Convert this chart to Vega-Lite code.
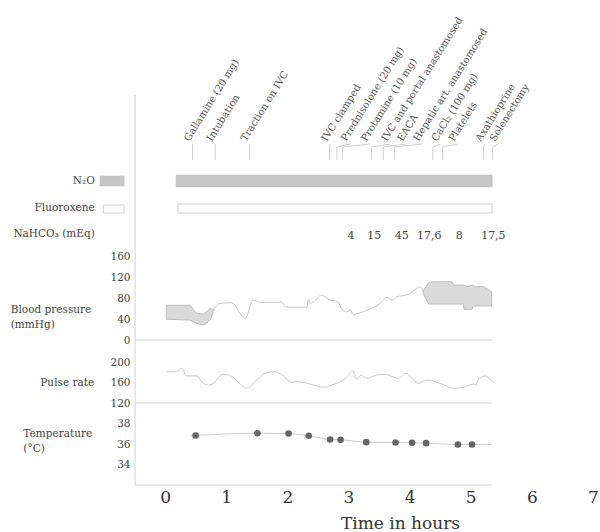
{
  "$schema": "https://vega.github.io/schema/vega-lite/v6.json",
  "padding": 0,
  "background": "white",
  "spacing": 0,
  "bounds": "flush",
  "config": {
    "view": {"stroke": null},
    "font": "DejaVu Serif",
    "axisY": {"domain": false, "ticks": false, "grid": false, "offset": -135, "labelPadding": 5, "labelFont": "DejaVu Serif", "labelFontSize": 10.5, "labelColor": "#444", "labelOverlap": false, "labelBound": false, "labelFlush": false},
    "axisX": {"domain": false, "ticks": false, "grid": false, "labelFont": "DejaVu Serif", "labelFontSize": 17, "labelColor": "#333", "labelPadding": 4, "labelFlush": false, "labelOverlap": false, "titleFont": "DejaVu Serif", "titleFontSize": 17, "titleFontWeight": "normal", "titleColor": "#333", "titlePadding": 10}
  },
  "resolve": {"scale": {"x": "independent", "y": "independent"}, "axis": {"x": "independent", "y": "independent"}},
  "datasets": {
    "events": [
      {"event": "Gallamine (20 mg)", "t": 0.45, "label_t": 0.45},
      {"event": "Intubation", "t": 0.82, "label_t": 0.82},
      {"event": "Traction on IVC", "t": 1.38, "label_t": 1.38},
      {"event": "IVC clamped", "t": 2.69, "label_t": 2.70},
      {"event": "Prednisolone (20 mg)", "t": 2.81, "label_t": 3.02},
      {"event": "Protamine (10 mg)", "t": 2.90, "label_t": 3.35},
      {"event": "IVC and portal anastomosed", "t": 3.38, "label_t": 3.68},
      {"event": "EACA", "t": 3.57, "label_t": 3.94},
      {"event": "Hepatic art. anastomosed", "t": 3.75, "label_t": 4.20},
      {"event": "CaCl₂ (100 mg)", "t": 4.38, "label_t": 4.50},
      {"event": "Platelets", "t": 4.54, "label_t": 4.78},
      {"event": "Axathioprine", "t": 5.21, "label_t": 5.22},
      {"event": "Solenectomy", "t": 5.36, "label_t": 5.45}
    ],
    "agents": [
      {"agent": "N₂O", "start": 0.18, "end": 5.35},
      {"agent": "Fluoroxene", "start": 0.21, "end": 5.35}
    ],
    "nahco3": [
      {"t": 3.04, "mEq": "4"},
      {"t": 3.42, "mEq": "15"},
      {"t": 3.87, "mEq": "45"},
      {"t": 4.32, "mEq": "17,6"},
      {"t": 4.81, "mEq": "8"},
      {"t": 5.37, "mEq": "17,5"}
    ],
    "bpArea": [
      {"seg": "a", "t": 0.02, "sys": 67, "dia": 40},
      {"seg": "a", "t": 0.41, "sys": 67, "dia": 38.5},
      {"seg": "a", "t": 0.52, "sys": 51, "dia": 32},
      {"seg": "a", "t": 0.63, "sys": 50, "dia": 29},
      {"seg": "a", "t": 0.74, "sys": 61, "dia": 38.5},
      {"seg": "a", "t": 0.79, "sys": 59, "dia": 56},
      {"seg": "b", "t": 4.22, "sys": 94, "dia": 90},
      {"seg": "b", "t": 4.31, "sys": 110, "dia": 69.4},
      {"seg": "b", "t": 4.38, "sys": 112.3, "dia": 69.4},
      {"seg": "b", "t": 4.69, "sys": 112.3, "dia": 69.4},
      {"seg": "b", "t": 4.72, "sys": 106, "dia": 69.4},
      {"seg": "b", "t": 4.88, "sys": 106, "dia": 69.4},
      {"seg": "b", "t": 4.89, "sys": 105, "dia": 59},
      {"seg": "b", "t": 4.96, "sys": 102.7, "dia": 59},
      {"seg": "b", "t": 5.02, "sys": 106, "dia": 59},
      {"seg": "b", "t": 5.04, "sys": 105, "dia": 65.5},
      {"seg": "b", "t": 5.07, "sys": 102.7, "dia": 65.5},
      {"seg": "b", "t": 5.21, "sys": 102.7, "dia": 65.5},
      {"seg": "b", "t": 5.34, "sys": 93, "dia": 65.5}
    ],
    "bpLine": [
      {"t": 0.79, "bp": 58}, {"t": 0.90, "bp": 70.7}, {"t": 1.09, "bp": 71.9}, {"t": 1.31, "bp": 41.8},
      {"t": 1.44, "bp": 77}, {"t": 1.55, "bp": 72.6}, {"t": 1.91, "bp": 72.6}, {"t": 1.96, "bp": 64.2},
      {"t": 2.10, "bp": 63}, {"t": 2.32, "bp": 63}, {"t": 2.34, "bp": 78.4}, {"t": 2.37, "bp": 70.7},
      {"t": 2.43, "bp": 73.8}, {"t": 2.56, "bp": 86.7}, {"t": 2.67, "bp": 78.4}, {"t": 2.83, "bp": 73.8},
      {"t": 2.89, "bp": 59.2}, {"t": 2.97, "bp": 54.5}, {"t": 3.03, "bp": 57.8}, {"t": 3.08, "bp": 49.5},
      {"t": 3.24, "bp": 54.5}, {"t": 3.52, "bp": 70.7}, {"t": 3.63, "bp": 82.3}, {"t": 3.71, "bp": 77},
      {"t": 3.79, "bp": 83.4}, {"t": 3.95, "bp": 86.7}, {"t": 4.12, "bp": 99.6}, {"t": 4.17, "bp": 102.7},
      {"t": 4.22, "bp": 94}
    ],
    "pulse": [
      {"t": 0.02, "hr": 181}, {"t": 0.19, "hr": 181}, {"t": 0.27, "hr": 188}, {"t": 0.35, "hr": 173},
      {"t": 0.52, "hr": 173}, {"t": 0.63, "hr": 158}, {"t": 0.71, "hr": 155}, {"t": 0.79, "hr": 158},
      {"t": 0.93, "hr": 175}, {"t": 1.04, "hr": 175}, {"t": 1.17, "hr": 163.5}, {"t": 1.34, "hr": 148.7},
      {"t": 1.50, "hr": 165}, {"t": 1.66, "hr": 179}, {"t": 1.80, "hr": 181}, {"t": 1.91, "hr": 175},
      {"t": 2.07, "hr": 160.4}, {"t": 2.18, "hr": 161.6}, {"t": 2.37, "hr": 157}, {"t": 2.59, "hr": 150.6},
      {"t": 2.73, "hr": 155}, {"t": 2.97, "hr": 170}, {"t": 3.07, "hr": 183}, {"t": 3.14, "hr": 166},
      {"t": 3.20, "hr": 174.6}, {"t": 3.30, "hr": 168}, {"t": 3.46, "hr": 174.6}, {"t": 3.60, "hr": 176},
      {"t": 3.82, "hr": 168}, {"t": 3.94, "hr": 178}, {"t": 4.14, "hr": 158.4}, {"t": 4.28, "hr": 165},
      {"t": 4.50, "hr": 158.4}, {"t": 4.72, "hr": 148.7}, {"t": 4.91, "hr": 151.8}, {"t": 5.04, "hr": 157},
      {"t": 5.09, "hr": 155}, {"t": 5.12, "hr": 166}, {"t": 5.23, "hr": 172.7}, {"t": 5.37, "hr": 159.6}
    ],
    "temp": [
      {"t": 0.41, "temp": 36.8, "dot": false},
      {"t": 0.50, "temp": 36.83, "dot": true},
      {"t": 1.51, "temp": 37.05, "dot": true},
      {"t": 2.02, "temp": 37.02, "dot": true},
      {"t": 2.35, "temp": 36.8, "dot": true},
      {"t": 2.70, "temp": 36.44, "dot": true},
      {"t": 2.87, "temp": 36.41, "dot": true},
      {"t": 3.29, "temp": 36.18, "dot": true},
      {"t": 3.77, "temp": 36.15, "dot": true},
      {"t": 4.04, "temp": 36.12, "dot": true},
      {"t": 4.27, "temp": 36.08, "dot": true},
      {"t": 4.79, "temp": 35.95, "dot": true},
      {"t": 5.02, "temp": 35.95, "dot": true},
      {"t": 5.34, "temp": 35.93, "dot": false}
    ]
  },
  "vconcat": [
    {
      "width": 600, "height": 248,
      "layer": [
        {"data": {"values": [{}]}, "mark": {"type": "rule", "stroke": "#e0e0e0", "strokeWidth": 1.5},
         "encoding": {"x": {"datum": -0.49, "type": "quantitative", "scale": {"domain": [-2.7, 7.114], "nice": false, "zero": false}, "axis": null},
                      "y": {"datum": 153, "type": "quantitative", "scale": {"domain": [0, 248], "nice": false, "zero": false}, "axis": null},
                      "y2": {"datum": 0}}},
        {"data": {"name": "events"}, "mark": {"type": "rule", "stroke": "#d0d0d0", "strokeWidth": 1},
         "encoding": {"x": {"field": "t", "type": "quantitative", "scale": {"domain": [-2.7, 7.114], "nice": false, "zero": false}, "axis": null},
                      "y": {"datum": 88, "type": "quantitative", "scale": {"domain": [0, 248], "nice": false, "zero": false}, "axis": null},
                      "y2": {"datum": 101}}},
        {"data": {"name": "events"}, "mark": {"type": "rule", "stroke": "#d0d0d0", "strokeWidth": 1},
         "encoding": {"x": {"field": "t", "type": "quantitative", "scale": {"domain": [-2.7, 7.114], "nice": false, "zero": false}, "axis": null},
                      "x2": {"field": "label_t"},
                      "y": {"datum": 101, "type": "quantitative", "scale": {"domain": [0, 248], "nice": false, "zero": false}, "axis": null},
                      "y2": {"datum": 104}}},
        {"data": {"name": "events"}, "mark": {"type": "text", "angle": 302, "align": "left", "baseline": "bottom", "dy": -2, "fontSize": 10, "font": "DejaVu Serif", "fill": "#555"},
         "encoding": {"x": {"field": "label_t", "type": "quantitative", "scale": {"domain": [-2.7, 7.114], "nice": false, "zero": false}, "axis": null},
                      "y": {"datum": 104, "type": "quantitative", "scale": {"domain": [0, 248], "nice": false, "zero": false}, "axis": null},
                      "text": {"field": "event"}}},
        {"data": {"name": "agents"}, "transform": [{"filter": "datum.agent === 'N₂O'"}],
         "mark": {"type": "rect", "fill": "#c6c6c6", "stroke": "#bdbdbd", "strokeWidth": 0.5},
         "encoding": {"x": {"field": "start", "type": "quantitative", "scale": {"domain": [-2.7, 7.114], "nice": false, "zero": false}, "axis": null},
                      "x2": {"field": "end"},
                      "y": {"datum": 73, "type": "quantitative", "scale": {"domain": [0, 248], "nice": false, "zero": false}, "axis": null},
                      "y2": {"datum": 61}}},
        {"data": {"name": "agents"}, "transform": [{"filter": "datum.agent === 'N₂O'"}],
         "mark": {"type": "rect", "fill": "#c6c6c6", "stroke": "#bdbdbd", "strokeWidth": 0.5},
         "encoding": {"x": {"datum": -1.063, "type": "quantitative", "scale": {"domain": [-2.7, 7.114], "nice": false, "zero": false}, "axis": null},
                      "x2": {"datum": -0.67},
                      "y": {"datum": 72, "type": "quantitative", "scale": {"domain": [0, 248], "nice": false, "zero": false}, "axis": null},
                      "y2": {"datum": 62}}},
        {"data": {"name": "agents"}, "transform": [{"filter": "datum.agent === 'N₂O'"}],
         "mark": {"type": "text", "align": "right", "baseline": "middle", "fontSize": 10.5, "font": "DejaVu Serif", "fill": "#444"},
         "encoding": {"x": {"datum": -1.15, "type": "quantitative", "scale": {"domain": [-2.7, 7.114], "nice": false, "zero": false}, "axis": null},
                      "y": {"datum": 67, "type": "quantitative", "scale": {"domain": [0, 248], "nice": false, "zero": false}, "axis": null},
                      "text": {"field": "agent"}}},
        {"data": {"name": "agents"}, "transform": [{"filter": "datum.agent === 'Fluoroxene'"}],
         "mark": {"type": "rect", "fill": "white", "stroke": "#cfcfcf", "strokeWidth": 1},
         "encoding": {"x": {"field": "start", "type": "quantitative", "scale": {"domain": [-2.7, 7.114], "nice": false, "zero": false}, "axis": null},
                      "x2": {"field": "end"},
                      "y": {"datum": 44, "type": "quantitative", "scale": {"domain": [0, 248], "nice": false, "zero": false}, "axis": null},
                      "y2": {"datum": 35}}},
        {"data": {"name": "agents"}, "transform": [{"filter": "datum.agent === 'Fluoroxene'"}],
         "mark": {"type": "rect", "fill": "white", "stroke": "#cfcfcf", "strokeWidth": 1},
         "encoding": {"x": {"datum": -1.01, "type": "quantitative", "scale": {"domain": [-2.7, 7.114], "nice": false, "zero": false}, "axis": null},
                      "x2": {"datum": -0.67},
                      "y": {"datum": 43, "type": "quantitative", "scale": {"domain": [0, 248], "nice": false, "zero": false}, "axis": null},
                      "y2": {"datum": 35}}},
        {"data": {"name": "agents"}, "transform": [{"filter": "datum.agent === 'Fluoroxene'"}],
         "mark": {"type": "text", "align": "right", "baseline": "middle", "fontSize": 10.5, "font": "DejaVu Serif", "fill": "#444"},
         "encoding": {"x": {"datum": -1.15, "type": "quantitative", "scale": {"domain": [-2.7, 7.114], "nice": false, "zero": false}, "axis": null},
                      "y": {"datum": 40, "type": "quantitative", "scale": {"domain": [0, 248], "nice": false, "zero": false}, "axis": null},
                      "text": {"field": "agent"}}},
        {"data": {"values": [{}]},
         "mark": {"type": "text", "align": "right", "baseline": "middle", "fontSize": 10.5, "font": "DejaVu Serif", "fill": "#444", "text": "NaHCO₃ (mEq)"},
         "encoding": {"x": {"datum": -1.15, "type": "quantitative", "scale": {"domain": [-2.7, 7.114], "nice": false, "zero": false}, "axis": null},
                      "y": {"datum": 14, "type": "quantitative", "scale": {"domain": [0, 248], "nice": false, "zero": false}, "axis": null}}},
        {"data": {"name": "nahco3"},
         "mark": {"type": "text", "align": "center", "baseline": "middle", "fontSize": 11, "font": "DejaVu Serif", "fill": "#444"},
         "encoding": {"x": {"field": "t", "type": "quantitative", "scale": {"domain": [-2.7, 7.114], "nice": false, "zero": false}, "axis": null},
                      "y": {"datum": 12, "type": "quantitative", "scale": {"domain": [0, 248], "nice": false, "zero": false}, "axis": null},
                      "text": {"field": "mEq"}}}
      ]
    },
    {
      "width": 600, "height": 92,
      "layer": [
        {"data": {"values": [{}]}, "mark": {"type": "rule", "stroke": "#e0e0e0", "strokeWidth": 1.5},
         "encoding": {"x": {"datum": -0.49, "type": "quantitative", "scale": {"domain": [-2.7, 7.114], "nice": false, "zero": false}, "axis": null}}},
        {"data": {"values": [{}]}, "mark": {"type": "rule", "stroke": "#e0e0e0", "strokeWidth": 1.5},
         "encoding": {"x": {"datum": -0.49, "type": "quantitative", "scale": {"domain": [-2.7, 7.114], "nice": false, "zero": false}, "axis": null},
                      "x2": {"datum": 5.35},
                      "y": {"datum": 0, "type": "quantitative", "scale": {"domain": [0, 177.3], "nice": false, "zero": false}, "axis": {"values": [0, 40, 80, 120, 160]}, "title": null}}},
        {"data": {"name": "bpArea"}, "mark": {"type": "area", "fill": "#dadada", "stroke": "#bdbdbd", "strokeWidth": 1},
         "encoding": {"x": {"field": "t", "type": "quantitative", "scale": {"domain": [-2.7, 7.114], "nice": false, "zero": false}, "axis": null},
                      "y": {"field": "sys", "type": "quantitative", "scale": {"domain": [0, 177.3], "nice": false, "zero": false}, "axis": {"values": [0, 40, 80, 120, 160]}, "title": null},
                      "y2": {"field": "dia"},
                      "detail": {"field": "seg"}}},
        {"data": {"name": "bpLine"}, "mark": {"type": "line", "stroke": "#c8c8c8", "strokeWidth": 1, "interpolate": "monotone"},
         "encoding": {"x": {"field": "t", "type": "quantitative", "scale": {"domain": [-2.7, 7.114], "nice": false, "zero": false}, "axis": null},
                      "y": {"field": "bp", "type": "quantitative", "scale": {"domain": [0, 177.3], "nice": false, "zero": false}, "axis": {"values": [0, 40, 80, 120, 160]}, "title": null}}},
        {"data": {"values": [{}]},
         "mark": {"type": "text", "align": "left", "baseline": "middle", "fontSize": 10.5, "font": "DejaVu Serif", "fill": "#444", "lineHeight": 15, "lineBreak": "\n", "text": "Blood pressure\n(mmHg)"},
         "encoding": {"x": {"datum": -2.524, "type": "quantitative", "scale": {"domain": [-2.7, 7.114], "nice": false, "zero": false}, "axis": null},
                      "y": {"datum": 57.8, "type": "quantitative", "scale": {"domain": [0, 177.3], "nice": false, "zero": false}, "axis": {"values": [0, 40, 80, 120, 160]}, "title": null}}}
      ]
    },
    {
      "width": 600, "height": 63,
      "layer": [
        {"data": {"values": [{}]}, "mark": {"type": "rule", "stroke": "#e0e0e0", "strokeWidth": 1.5},
         "encoding": {"x": {"datum": -0.49, "type": "quantitative", "scale": {"domain": [-2.7, 7.114], "nice": false, "zero": false}, "axis": null}}},
        {"data": {"values": [{}]}, "mark": {"type": "rule", "stroke": "#e0e0e0", "strokeWidth": 1.5},
         "encoding": {"x": {"datum": -0.49, "type": "quantitative", "scale": {"domain": [-2.7, 7.114], "nice": false, "zero": false}, "axis": null},
                      "x2": {"datum": 5.35},
                      "y": {"datum": 120, "type": "quantitative", "scale": {"domain": [120, 243], "nice": false, "zero": false}, "axis": {"values": [120, 160, 200]}, "title": null}}},
        {"data": {"name": "pulse"}, "mark": {"type": "line", "stroke": "#c8c8c8", "strokeWidth": 1, "interpolate": "monotone"},
         "encoding": {"x": {"field": "t", "type": "quantitative", "scale": {"domain": [-2.7, 7.114], "nice": false, "zero": false}, "axis": null},
                      "y": {"field": "hr", "type": "quantitative", "scale": {"domain": [120, 243], "nice": false, "zero": false}, "axis": {"values": [120, 160, 200]}, "title": null}}},
        {"data": {"values": [{}]},
         "mark": {"type": "text", "align": "right", "baseline": "middle", "fontSize": 10.5, "font": "DejaVu Serif", "fill": "#444", "text": "Pulse rate"},
         "encoding": {"x": {"datum": -1.16, "type": "quantitative", "scale": {"domain": [-2.7, 7.114], "nice": false, "zero": false}, "axis": null},
                      "y": {"datum": 159, "type": "quantitative", "scale": {"domain": [120, 243], "nice": false, "zero": false}, "axis": {"values": [120, 160, 200]}, "title": null}}}
      ]
    },
    {
      "width": 600, "height": 82,
      "layer": [
        {"data": {"values": [{}]}, "mark": {"type": "rule", "stroke": "#e0e0e0", "strokeWidth": 1.5},
         "encoding": {"x": {"datum": -0.49, "type": "quantitative", "scale": {"domain": [-2.7, 7.114], "nice": false, "zero": false}, "axis": {"values": [0, 1, 2, 3, 4, 5, 6, 7], "title": "Time in hours", "titleX": 400}}}},
        {"data": {"values": [{}]}, "mark": {"type": "rule", "stroke": "#e0e0e0", "strokeWidth": 1.5},
         "encoding": {"x": {"datum": -0.49, "type": "quantitative", "scale": {"domain": [-2.7, 7.114], "nice": false, "zero": false}, "axis": {"values": [0, 1, 2, 3, 4, 5, 6, 7], "title": "Time in hours", "titleX": 400}},
                      "x2": {"datum": 5.35},
                      "y": {"datum": 32, "type": "quantitative", "scale": {"domain": [32, 40], "nice": false, "zero": false}, "axis": {"values": [34, 36, 38]}, "title": null}}},
        {"data": {"name": "temp"}, "mark": {"type": "line", "stroke": "#cccccc", "strokeWidth": 1, "interpolate": "monotone"},
         "encoding": {"x": {"field": "t", "type": "quantitative", "scale": {"domain": [-2.7, 7.114], "nice": false, "zero": false}, "axis": {"values": [0, 1, 2, 3, 4, 5, 6, 7], "title": "Time in hours", "titleX": 400}},
                      "y": {"field": "temp", "type": "quantitative", "scale": {"domain": [32, 40], "nice": false, "zero": false}, "axis": {"values": [34, 36, 38]}, "title": null}}},
        {"data": {"name": "temp"}, "transform": [{"filter": "datum.dot"}],
         "mark": {"type": "circle", "fill": "#666", "opacity": 1, "size": 44},
         "encoding": {"x": {"field": "t", "type": "quantitative", "scale": {"domain": [-2.7, 7.114], "nice": false, "zero": false}, "axis": {"values": [0, 1, 2, 3, 4, 5, 6, 7], "title": "Time in hours", "titleX": 400}},
                      "y": {"field": "temp", "type": "quantitative", "scale": {"domain": [32, 40], "nice": false, "zero": false}, "axis": {"values": [34, 36, 38]}, "title": null}}},
        {"data": {"values": [{}]},
         "mark": {"type": "text", "align": "left", "baseline": "middle", "fontSize": 10.5, "font": "DejaVu Serif", "fill": "#444", "lineHeight": 15, "lineBreak": "\n", "text": "Temperature\n(°C)"},
         "encoding": {"x": {"datum": -2.318, "type": "quantitative", "scale": {"domain": [-2.7, 7.114], "nice": false, "zero": false}, "axis": {"values": [0, 1, 2, 3, 4, 5, 6, 7], "title": "Time in hours", "titleX": 400}},
                      "y": {"datum": 36.93, "type": "quantitative", "scale": {"domain": [32, 40], "nice": false, "zero": false}, "axis": {"values": [34, 36, 38]}, "title": null}}}
      ]
    }
  ]
}
